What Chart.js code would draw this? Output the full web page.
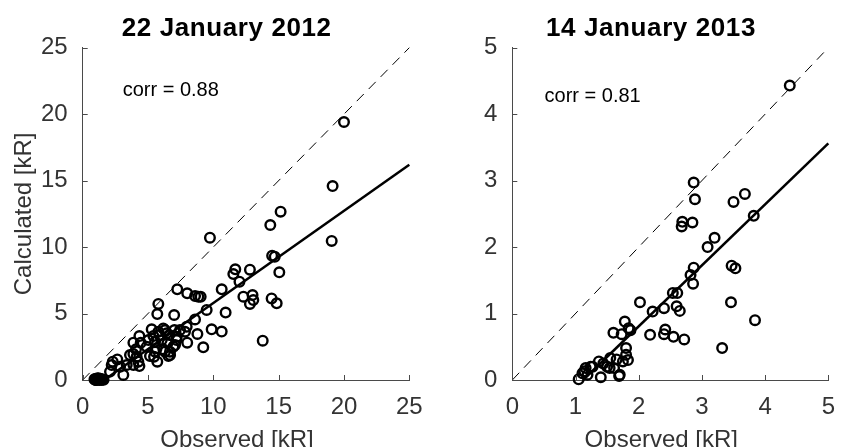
<!DOCTYPE html>
<html>
<head>
<meta charset="utf-8">
<script src="https://cdn.jsdelivr.net/npm/chart.js@4.4.1/dist/chart.umd.min.js"></script>
<style>
  html, body { margin: 0; padding: 0; background: #fff; overflow: hidden; width: 845px; height: 447px; }
  .panel { position: absolute; top: 0; height: 447px; }
  #p1 { left: 0; width: 453px; }
  #p2 { left: 466px; width: 382px; }
  canvas { display: block; }
</style>
</head>
<body>
<div class="panel" id="p1"><canvas id="c1" width="453" height="447"></canvas></div>
<div class="panel" id="p2"><canvas id="c2" width="382" height="447"></canvas></div>
<script>
// ---- 22 January 2012 : observed vs calculated intensity [kR] ----
const obs2012 = [
  20.0, 19.13, 19.06, 15.15, 14.36, 9.74, 14.5, 14.7, 15.05, 11.68, 11.53, 12.8, 12.0, 10.64,
  7.24, 8.0, 8.6, 8.85, 9.03, 12.3, 13.0, 13.06, 12.8, 14.46, 14.85, 5.79, 5.71, 7.0, 9.49,
  10.94, 8.6, 13.78, 9.87, 10.64, 9.23, 8.78,
  7.96, 7.83, 7.45, 8.0, 7.02, 6.63, 6.30, 6.17, 5.87, 5.28, 5.41, 4.34, 4.44, 3.88, 4.08,
  3.62, 3.88, 4.13, 4.26, 4.34, 3.88, 5.15, 5.71, 5.46, 6.56, 6.68, 6.94, 6.48, 6.05, 5.54,
  5.03, 4.90, 5.66, 6.17, 7.19, 2.65, 2.30, 2.22, 3.11, 3.37, 2.86, 2.09,
  6.43, 5.79, 7.2, 6.30, 5.54, 6.69, 7.07,
  0.9, 0.95, 1.0, 1.05, 1.1, 1.15, 1.2, 1.25, 1.3, 1.35, 1.4, 1.45, 1.02, 1.18, 1.32, 1.52, 1.6
];
const calc2012 = [
  19.41, 14.59, 10.46, 12.66, 11.66, 10.71, 9.35, 9.28, 8.10, 8.33, 7.97, 8.3, 7.4, 6.82,
  6.82, 6.52, 6.32, 6.27, 6.27, 6.27, 6.39, 6.02, 5.72, 6.14, 5.77, 5.72, 4.96, 4.89, 5.27,
  5.07, 4.56, 2.96, 3.81, 3.64, 2.46, 3.46,
  4.01, 3.63, 3.76, 2.81, 3.76, 3.38, 3.76, 3.88, 3.38, 3.81, 3.31, 3.31, 2.81, 2.81, 2.31,
  1.88, 1.95, 1.75, 1.38, 1.05, 1.13, 1.80, 1.38, 1.75, 1.80, 2.13, 2.51, 2.76, 3.01, 2.88,
  3.01, 2.51, 2.38, 2.31, 3.01, 1.55, 1.38, 1.13, 0.38, 1.13, 1.0, 0.63,
  3.51, 3.63, 3.26, 2.13, 2.13, 1.88, 2.63,
  0.05, 0.02, 0.1, 0.0, 0.06, 0.12, 0.03, 0.08, 0.0, 0.1, 0.04, 0.02, 0.0, 0.14, 0.06, 0.03, 0.01
];
const fitObs2012 = [1.7, 25];
const fitCalc2012 = [0.03, 16.2];
const oneToOne2012 = [0, 25];

// ---- 14 January 2013 ----
const obs2013 = [
  4.39, 2.87, 2.89, 3.68, 3.50, 3.82, 2.69, 2.68, 2.85, 3.20, 3.09, 2.87, 2.82, 2.86, 3.47,
  3.53, 2.54, 2.61, 2.60, 2.65, 2.02, 2.22, 2.40, 3.46, 3.84, 3.32, 1.78, 1.84, 1.87, 1.60,
  1.73, 2.18, 2.42, 2.40, 2.55, 2.72, 1.80, 1.80, 1.83, 1.75, 1.55, 1.65, 1.50, 1.61, 1.70,
  1.37, 1.24, 1.16, 1.14, 1.19, 1.05, 1.40, 1.44, 1.54, 1.27, 1.11, 1.69
];
const calc2013 = [
  4.43, 2.97, 2.72, 2.80, 2.68, 2.47, 2.38, 2.31, 2.37, 2.14, 2.0, 1.69, 1.58, 1.45, 1.72,
  1.68, 1.31, 1.31, 1.11, 1.04, 1.17, 1.03, 1.08, 1.17, 0.90, 0.48, 0.88, 0.78, 0.75, 0.71,
  0.69, 0.68, 0.76, 0.69, 0.65, 0.61, 0.48, 0.38, 0.30, 0.28, 0.33, 0.31, 0.20, 0.18, 0.08,
  0.28, 0.20, 0.18, 0.13, 0.08, 0.01, 0.04, 0.25, 0.18, 0.20, 0.10, 0.06
];
const fitObs2013 = [1.12, 5];
const fitCalc2013 = [0.0, 3.56];
const oneToOne2013 = [0, 5];

const corrText = ['corr = 0.88', 'corr = 0.81'];
const titles = ['22 January 2012', '14 January 2013'];
const xTitle = 'Observed [kR]';
const yTitle = 'Calculated [kR]';

const FONT = '"Liberation Sans", Arial, Helvetica, sans-serif';
const AXIS_GRAY = '#4a4a4a';
const TEXT_GRAY = '#333333';

const pairs = (xs, ys) => xs.map((v, i) => ({ x: v, y: ys[i] }));

// short tick marks pointing into the plot area
const innerTicks = {
  id: 'innerTicks',
  afterDatasetsDraw(chart) {
    const { ctx, chartArea: a, scales: { x, y } } = chart;
    ctx.save();
    ctx.strokeStyle = AXIS_GRAY;
    ctx.lineWidth = 1;
    ctx.beginPath();
    x.ticks.forEach(t => {
      const px = Math.round(x.getPixelForValue(t.value)) + 0.5;
      ctx.moveTo(px, a.bottom);
      ctx.lineTo(px, a.bottom - 5);
    });
    y.ticks.forEach(t => {
      const py = Math.round(y.getPixelForValue(t.value)) + 0.5;
      ctx.moveTo(a.left, py);
      ctx.lineTo(a.left + 5, py);
    });
    ctx.stroke();
    ctx.restore();
  }
};

// panel heading, x-axis caption and correlation note
const panelText = {
  id: 'panelText',
  afterDatasetsDraw(chart, args, opts) {
    const { ctx, chartArea: a, scales: { x, y } } = chart;
    const mid = (a.left + a.right) / 2;
    ctx.save();
    ctx.textBaseline = 'alphabetic';
    // heading
    ctx.fillStyle = '#000';
    ctx.font = 'bold 26px ' + FONT;
    if ('letterSpacing' in ctx) ctx.letterSpacing = '0.6px';
    ctx.textAlign = 'center';
    ctx.fillText(opts.title, mid + opts.titleShift, opts.titleBaseline);
    if ('letterSpacing' in ctx) ctx.letterSpacing = '0px';
    // x-axis caption
    ctx.fillStyle = TEXT_GRAY;
    ctx.font = '24px ' + FONT;
    ctx.fillText(opts.xCaption, mid + opts.xCaptionShift, opts.xCaptionBaseline);
    // correlation
    ctx.fillStyle = '#000';
    ctx.font = '20px ' + FONT;
    ctx.textAlign = 'left';
    ctx.fillText(opts.corr, x.getPixelForValue(opts.corrX), y.getPixelForValue(opts.corrY));
    ctx.restore();
  }
};

function panel(canvas, cfg) {
  return new Chart(canvas, {
    type: 'scatter',
    data: {
      datasets: [
        {
          data: pairs(cfg.oneToOne, cfg.oneToOne),
          showLine: true, borderColor: '#000', borderWidth: 1, borderDash: [10, 7],
          pointRadius: 0, clip: false
        },
        {
          data: pairs(cfg.fitX, cfg.fitY),
          showLine: true, borderColor: '#000', borderWidth: 2.5,
          pointRadius: 0, clip: false
        },
        {
          data: pairs(cfg.obs, cfg.calc),
          pointStyle: 'circle', pointRadius: 4.8, borderWidth: 2.4,
          borderColor: '#000', backgroundColor: 'rgba(0,0,0,0)', clip: false
        }
      ]
    },
    options: {
      responsive: false,
      animation: false,
      events: [],
      layout: { padding: { top: 47.7, right: cfg.padRight, bottom: 0, left: 0 } },
      plugins: {
        legend: { display: false },
        tooltip: { enabled: false },
        title: { display: false },
        panelText: {
          title: cfg.title, titleShift: -19.3, titleBaseline: 35.7,
          xCaption: xTitle, xCaptionShift: -9, xCaptionBaseline: 446.5,
          corr: cfg.corr, corrX: cfg.corrX, corrY: cfg.corrY
        }
      },
      scales: {
        x: {
          type: 'linear', min: 0, max: cfg.max,
          ticks: { stepSize: cfg.step, color: TEXT_GRAY, font: { family: FONT, size: 24 }, padding: 13, maxRotation: 0 },
          grid: { display: false, drawTicks: false },
          border: { display: true, color: AXIS_GRAY, width: 1 },
          title: { display: false },
          afterFit(s) { s.height = 67; }
        },
        y: {
          type: 'linear', min: 0, max: cfg.max,
          ticks: { stepSize: cfg.step, color: TEXT_GRAY, font: { family: FONT, size: 24 }, padding: 15 },
          grid: { display: false, drawTicks: false },
          border: { display: true, color: AXIS_GRAY, width: 1 },
          title: {
            display: cfg.yTitle !== '', text: cfg.yTitle, color: TEXT_GRAY,
            font: { family: FONT, size: 24, lineHeight: 1 }, padding: { top: 12, bottom: 0 }
          },
          afterFit(s) { s.width = cfg.yWidth; }
        }
      }
    },
    plugins: [innerTicks, panelText]
  });
}

panel(document.getElementById('c1'), {
  title: titles[0], obs: obs2012, calc: calc2012, fitX: fitObs2012, fitY: fitCalc2012,
  oneToOne: oneToOne2012, max: 25, step: 5, corr: corrText[0], corrX: 3.06, corrY: 21.4,
  yTitle: yTitle, yWidth: 82.7, padRight: 43.7
});

panel(document.getElementById('c2'), {
  title: titles[1], obs: obs2013, calc: calc2013, fitX: fitObs2013, fitY: fitCalc2013,
  oneToOne: oneToOne2013, max: 5, step: 1, corr: corrText[1], corrX: 0.51, corrY: 4.19,
  yTitle: '', yWidth: 46.3, padRight: 8.7
});
</script>
</body>
</html>
